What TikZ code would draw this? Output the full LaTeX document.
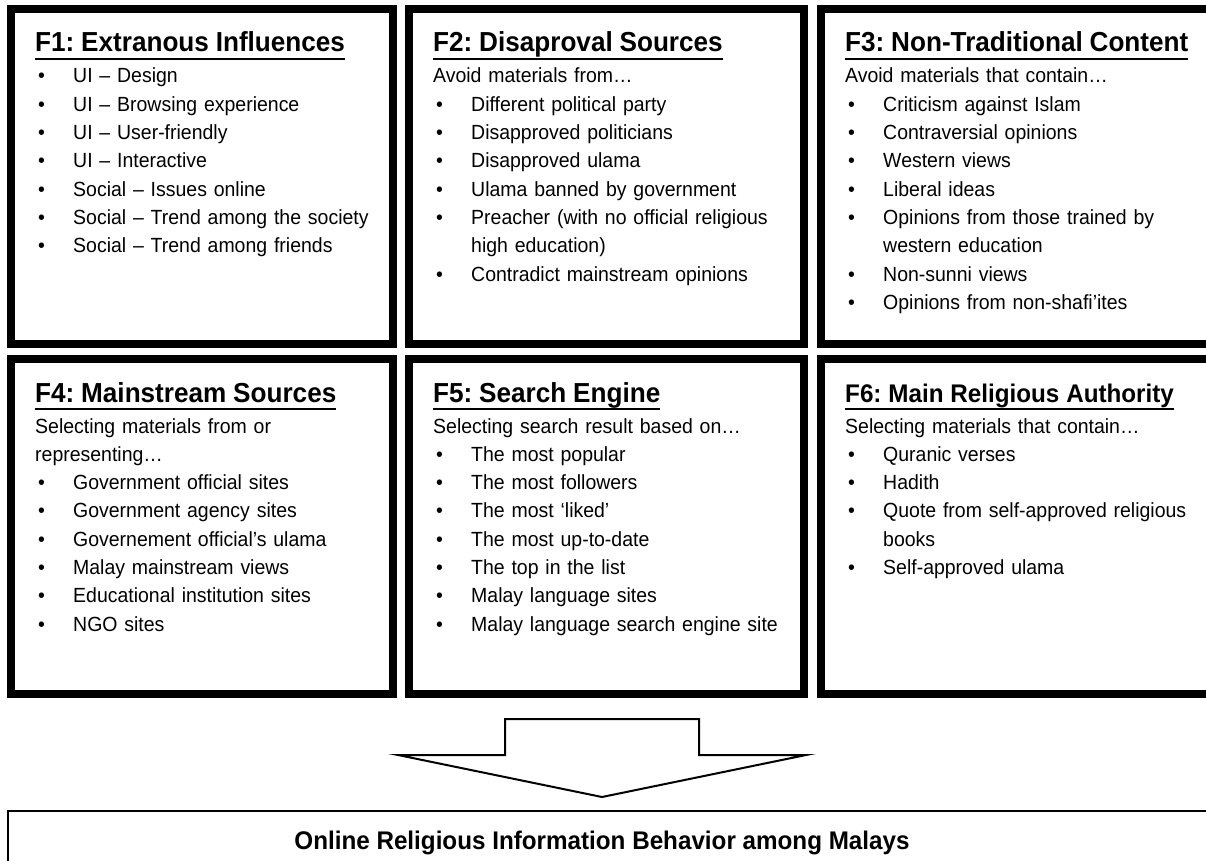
\documentclass[tikz,border=0pt]{standalone}
\usepackage{fontspec}
\setmainfont{Liberation Sans}[FakeStretch=0.95]
\usetikzlibrary{positioning}
\frenchspacing

% underlined heading with a fixed rule under the baseline
\newcommand\ulbox[1]{\setbox0=\hbox{#1}\rlap{\vrule height -5.7pt depth 8.3pt width \wd0}\box0}
\newcommand\ftitle[2][27.5]{\noindent\leavevmode{\fontsize{#1}{30}\selectfont\bfseries\ulbox{#2}}\par\vspace{2.7pt}}
\newcommand\fintro[1]{\noindent #1\par}
\newcommand\fitem[1]{\hangindent=38pt\hangafter=1\noindent\makebox[38pt][l]{\hspace{3pt}•}#1\par}

\tikzset{
  factor/.style={draw, line width=8pt, minimum width=382pt, minimum height=335pt, inner sep=0pt},
  factortext/.style={anchor=base west, text width=380pt, align=left, inner sep=0pt,
    font=\fontsize{20.5}{28.3}\selectfont\frenchspacing},
  blockarrow/.style={draw, line width=2pt}
}

\begin{document}
\begin{tikzpicture}[x=1pt, y=-1pt]
\useasboundingbox (0,0) rectangle (1206,861);
\clip (0,0) rectangle (1206,861);

% Factor boxes
\node[factor, anchor=north west] (f1) at (7,5) {};
\node[factor, minimum width=395pt, right=8pt of f1] (f2) {};
\node[factor, minimum width=400pt, right=9pt of f2] (f3) {};
\node[factor, below=7pt of f1] (f4) {};
\node[factor, minimum width=395pt, below=7pt of f2] (f5) {};
\node[factor, minimum width=400pt, below=7pt of f3] (f6) {};

% Box contents
\node[factortext] (f1t) at ([xshift=28pt, yshift=-47pt]f1.north west) {%
  \ftitle{F1: Extranous Influences}
  \fitem{UI – Design}
  \fitem{UI – Browsing experience}
  \fitem{UI – User-friendly}
  \fitem{UI – Interactive}
  \fitem{Social – Issues online}
  \fitem{Social – Trend among the society}
  \fitem{Social – Trend among friends}};

\node[factortext] (f2t) at ([xshift=28pt, yshift=-47pt]f2.north west) {%
  \ftitle{F2: Disaproval Sources}
  \fintro{Avoid materials from…}
  \fitem{Different political party}
  \fitem{Disapproved politicians}
  \fitem{Disapproved ulama}
  \fitem{Ulama banned by government}
  \fitem{Preacher (with no official religious\newline high education)}
  \fitem{Contradict mainstream opinions}};

\node[factortext] (f3t) at ([xshift=28pt, yshift=-47pt]f3.north west) {%
  \ftitle{F3: Non-Traditional Content}
  \fintro{Avoid materials that contain…}
  \fitem{Criticism against Islam}
  \fitem{Contraversial opinions}
  \fitem{Western views}
  \fitem{Liberal ideas}
  \fitem{Opinions from those trained by\newline western education}
  \fitem{Non-sunni views}
  \fitem{Opinions from non-shafi’ites}};

\node[factortext] (f4t) at ([xshift=28pt, yshift=-47pt]f4.north west) {%
  \ftitle{F4: Mainstream Sources}
  \fintro{Selecting materials from or\newline representing…}
  \fitem{Government official sites}
  \fitem{Government agency sites}
  \fitem{Governement official’s ulama}
  \fitem{Malay mainstream views}
  \fitem{Educational institution sites}
  \fitem{NGO sites}};

\node[factortext] (f5t) at ([xshift=28pt, yshift=-47pt]f5.north west) {%
  \ftitle{F5: Search Engine}
  \fintro{Selecting search result based on…}
  \fitem{The most popular}
  \fitem{The most followers}
  \fitem{The most ‘liked’}
  \fitem{The most up-to-date}
  \fitem{The top in the list}
  \fitem{Malay language sites}
  \fitem{Malay language search engine site}};

\node[factortext] (f6t) at ([xshift=28pt, yshift=-47pt]f6.north west) {%
  \ftitle[25.5]{F6: Main Religious Authority}
  \fintro{Selecting materials that contain…}
  \fitem{Quranic verses}
  \fitem{Hadith}
  \fitem{Quote from self-approved religious\newline books}
  \fitem{Self-approved ulama}};

% Outcome box
\node[draw, line width=1.8pt, minimum width=1240pt, minimum height=80pt, inner sep=0pt,
  anchor=north west] (behav) at (7,810) {};
\node[anchor=base, font=\fontsize{25.5}{28}\selectfont\bfseries] (behavtxt) at (602,849)
  {Online Religious Information Behavior among Malays};

% Block arrow down to the outcome
\coordinate (arrtop) at (602,719);
\draw[blockarrow] (arrtop) ++(-97,0) -- ++(0,36) -- ++(-107,0) -- ++(204,42)
  -- ++(204,-42) -- ++(-107,0) -- ++(0,-36) -- cycle;
\end{tikzpicture}
\end{document}
